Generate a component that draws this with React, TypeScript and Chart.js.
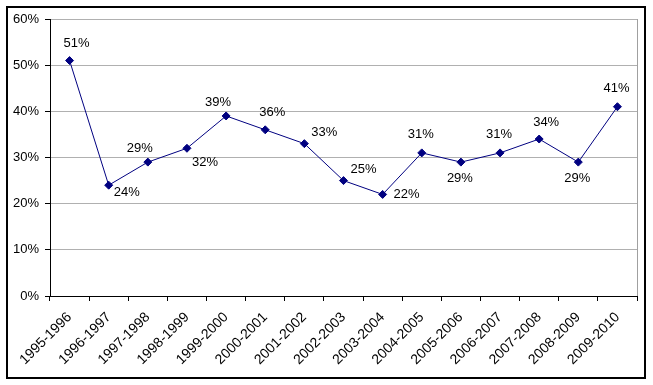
import React, { useEffect, useRef } from "react";
import { Chart, registerables } from "chart.js";

Chart.register(...registerables);

const categories = [
  "1995-1996", "1996-1997", "1997-1998", "1998-1999", "1999-2000",
  "2000-2001", "2001-2002", "2002-2003", "2003-2004", "2004-2005",
  "2005-2006", "2006-2007", "2007-2008", "2008-2009", "2009-2010",
];
const values = [51, 24, 29, 32, 39, 36, 33, 25, 22, 31, 29, 31, 34, 29, 41];
const labelPlacement = [
  "aboveRight", "rightLow", "aboveLeft", "belowRight", "aboveLeft",
  "aboveRight", "upperRight", "upperRight", "right", "above",
  "below", "above", "aboveRight", "below", "above",
];
const yTicks = [0, 10, 20, 30, 40, 50, 60];

const FONT = "'Liberation Sans', Arial, sans-serif";

const placementOffsets: Record<string, [number, number]> = {
  above: [-1, -18],
  aboveRight: [7, -17],
  aboveLeft: [-8, -14],
  upperRight: [20, -11],
  right: [24, 0],
  rightLow: [18, 7],
  belowRight: [18, 14],
  below: [-1, 16],
};

const labelPlugin = {
  id: "pointLabels",
  afterDatasetsDraw(chart: any) {
    const ctx = chart.ctx;
    const meta = chart.getDatasetMeta(0);
    ctx.save();
    ctx.font = `13px ${FONT}`;
    ctx.fillStyle = "#000";
    ctx.textAlign = "center";
    ctx.textBaseline = "middle";
    meta.data.forEach((pt: any, i: number) => {
      const off = placementOffsets[labelPlacement[i]] || [0, -16];
      ctx.fillText(values[i] + "%", pt.x + off[0], pt.y + off[1]);
    });
    ctx.restore();
  },
};

const borderPlugin = {
  id: "plotBorder",
  beforeDatasetsDraw(chart: any) {
    const { ctx, chartArea } = chart;
    ctx.save();
    ctx.strokeStyle = "#a0a0a0";
    ctx.lineWidth = 1;
    ctx.beginPath();
    ctx.moveTo(Math.round(chartArea.right) + 0.5, chartArea.top);
    ctx.lineTo(Math.round(chartArea.right) + 0.5, chartArea.bottom);
    ctx.stroke();
    ctx.restore();
  },
};

export default function App() {
  const ref = useRef<HTMLCanvasElement | null>(null);

  useEffect(() => {
    document.body.style.margin = "0";
    if (!ref.current) return;
    const chart = new Chart(ref.current, {
      type: "line",
      data: {
        labels: categories,
        datasets: [
          {
            data: values,
            borderColor: "#000080",
            backgroundColor: "#000080",
            borderWidth: 1,
            pointStyle: "rectRot",
            pointRadius: 4,
            pointBorderWidth: 1,
            pointBackgroundColor: "#000080",
            pointBorderColor: "#000080",
            tension: 0,
          },
        ],
      },
      options: {
        responsive: false,
        animation: false,
        devicePixelRatio: 1,
        layout: { padding: { top: 19, right: 16, left: 0, bottom: 0 } },
        plugins: {
          legend: { display: false },
          tooltip: { enabled: false },
        },
        scales: {
          x: {
            type: "category",
            offset: true,
            grid: {
              offset: true,
              drawOnChartArea: false,
              drawTicks: true,
              tickLength: 5,
              tickColor: "#000",
            },
            border: { color: "#000", width: 1 },
            ticks: {
              autoSkip: false,
              maxRotation: 45,
              minRotation: 45,
              padding: 8,
              color: "#000",
              font: { family: FONT, size: 14 },
            },
            afterFit(scale: any) {
              scale.height = 89;
            },
          },
          y: {
            min: 0,
            max: 60,
            afterBuildTicks(scale: any) {
              scale.ticks = yTicks.map((v) => ({ value: v }));
            },
            grid: {
              color: "#b0b0b0",
              tickColor: "#000",
              tickLength: 5,
            },
            border: { color: "#000", width: 1 },
            ticks: {
              padding: 6,
              color: "#000",
              font: { family: FONT, size: 13 },
              callback: (v: any) => v + "%",
            },
            afterFit(scale: any) {
              scale.width = 50;
            },
          },
        },
      },
      plugins: [labelPlugin, borderPlugin],
    });
    return () => chart.destroy();
  }, []);

  return (
    <div style={{ position: "relative", width: 653, height: 385, background: "#fff" }}>
      <canvas ref={ref} width={653} height={385} style={{ display: "block" }} />
      <div
        style={{
          position: "absolute",
          left: 6,
          top: 6,
          width: 640,
          height: 373,
          boxSizing: "border-box",
          border: "2px solid #000",
          pointerEvents: "none",
        }}
      />
    </div>
  );
}
